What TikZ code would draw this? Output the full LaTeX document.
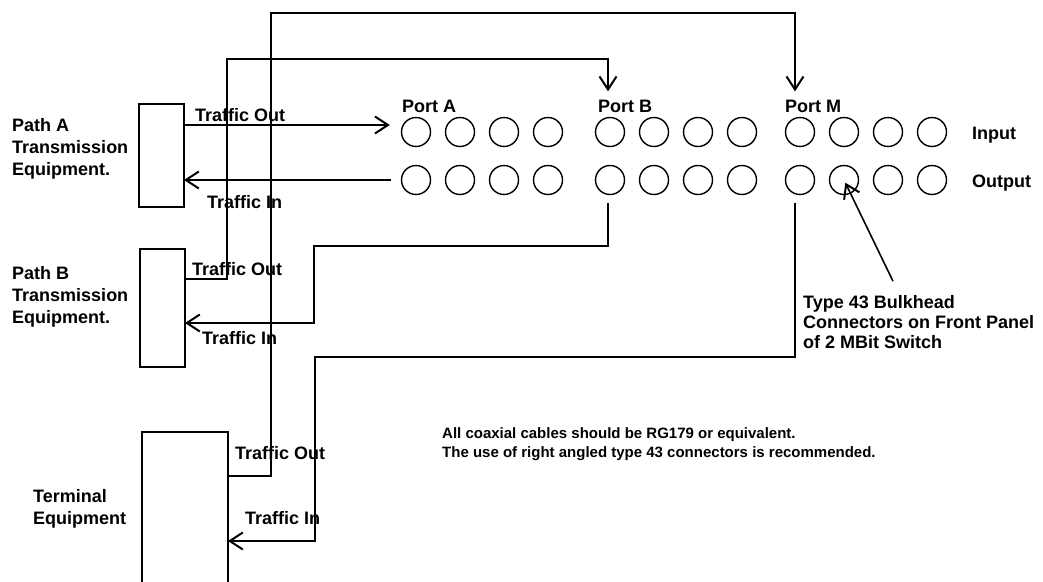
\documentclass[tikz,border=0pt]{standalone}
\usepackage{fontspec}
\setmainfont{Liberation Sans}
\usetikzlibrary{arrows.meta,positioning,calc}

\begin{document}
\begin{tikzpicture}[x=1pt,y=-1pt,font=\fontsize{18}{22}\selectfont\bfseries,
  wire/.style={draw,line width=1.6pt},
  feed/.style={wire,-{Straight Barb[length=13pt,width=17pt,line width=2pt]}},
  equip/.style={draw,line width=1.5pt,inner sep=0pt,outer sep=0pt},
  jack/.style={draw,circle,line width=1.4pt,minimum size=29pt,inner sep=0pt},
  lbl/.style={inner sep=0pt,anchor=west},
  multi/.style={lbl,align=left}]
  \useasboundingbox (0,0) rectangle (1043,581);

  % equipment
  \node[equip,minimum width=45pt,minimum height=103pt] (pathA) at (161.5,155.5) {};
  \node[equip,minimum width=45pt,minimum height=118pt] (pathB) at (162.5,308) {};
  \node[equip,minimum width=86pt,minimum height=190pt] (term) at (185,527) {};
  \node[multi] (pathAtxt) at (12,149) {Path A\\Transmission\\Equipment.};
  \node[multi] (pathBtxt) at (12,297) {Path B\\Transmission\\Equipment.};
  \node[multi] (termtxt) at (33,509) {Terminal\\Equipment};

  % front panel of the switch
  \foreach \g/\x in {A/416,B/610,M/800}
    \foreach \i in {1,...,4} {
      \node[jack] (in\g\i) at ({\x+44*(\i-1)},132) {};
      \node[jack] (out\g\i) at ({\x+44*(\i-1)},180) {};
    }
  \node[lbl,anchor=base west] (lblA) at (402,112) {Port A};
  \node[lbl,anchor=base west] (lblB) at (598,112) {Port B};
  \node[lbl,anchor=base west] (lblM) at (785,112) {Port M};
  \node[lbl,anchor=base west] (inputs) at (972,139) {Input};
  \node[lbl,anchor=base west] (outputs) at (972,187) {Output};

  % traffic labels
  \node[lbl] (aOut) at (195,115) {Traffic Out};
  \node[lbl] (aIn) at (207,202) {Traffic In};
  \node[lbl] (bOut) at (192,269) {Traffic Out};
  \node[lbl] (bIn) at (202,338) {Traffic In};
  \node[lbl] (tOut) at (235,453) {Traffic Out};
  \node[lbl] (tIn) at (245,518) {Traffic In};

  \node[multi,font=\fontsize{18}{20}\selectfont\bfseries] (bulk) at (803,322)
    {Type 43 Bulkhead\\Connectors on Front Panel\\of 2 MBit Switch};
  \node[multi,font=\fontsize{15}{18.5}\selectfont\bfseries] (note) at (442,444)
    {All coaxial cables should be RG179 or equivalent.\\The use of right angled type 43 connectors is recommended.};

  % path A
  \draw[feed,shorten >=11pt] (pathA.east |- 0,125) -- (inA1.west |- 0,125);
  \draw[feed,shorten <=10pt] (outA1.west) -- (pathA.east |- outA1);
  % path B out to port B, terminal out to port M
  \draw[feed] (pathB.east |- 0,279) -| (227,59) -| ($(inB1.north)+(-2,-25.5)$);
  \draw[feed] (term.east |- 0,476) -| (271,13) -| ($(inM1.north)+(-5,-25.5)$);
  % port outputs back to the equipment
  \draw[feed,shorten <=8pt] ($(outB1.south)+(-2,0)$) |- (314,246) |- (pathB.east |- 0,323);
  \draw[feed,shorten <=8pt] ($(outM1.south)+(-5,0)$) |- (315,357) |- (term.east |- 0,541);
  % bulkhead pointer
  \draw[feed,shorten >=3pt] ($(bulk.north west)+(90,-14)$) -- (outM2.center);
\end{tikzpicture}
\end{document}
